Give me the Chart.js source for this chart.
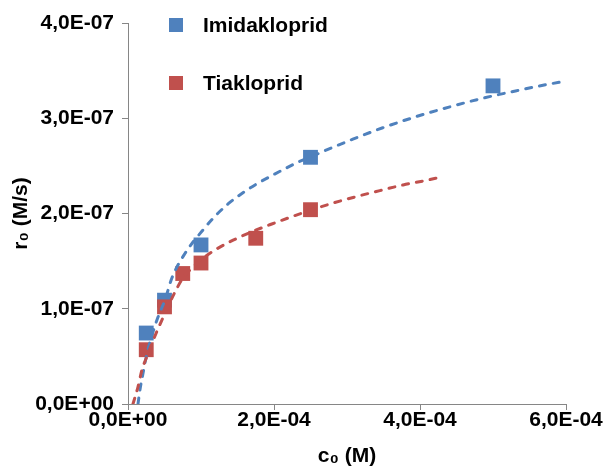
<!DOCTYPE html>
<html>
<head>
<meta charset="utf-8">
<script src="https://cdn.jsdelivr.net/npm/chart.js@4/dist/chart.umd.min.js"></script>
<style>
html,body{margin:0;padding:0;background:#ffffff;}
#wrap{width:603px;height:466px;position:relative;}
</style>
</head>
<body>
<div id="wrap"><canvas id="c" width="603" height="466"></canvas></div>
<script>
// ---- data ----
const seriesNames = ['Imidakloprid', 'Tiakloprid'];

const imiConc = [2.5e-5, 5e-5, 1e-4, 2.5e-4, 5e-4];
const imiRate = [0.745e-7, 1.09e-7, 1.67e-7, 2.59e-7, 3.34e-7];

const tiaConc = [2.5e-5, 5e-5, 7.5e-5, 1e-4, 1.75e-4, 2.5e-4];
const tiaRate = [0.57e-7, 1.02e-7, 1.37e-7, 1.48e-7, 1.74e-7, 2.04e-7];

// dashed trend curves, sampled along the drawn curves
const imiFitConc = [1.37e-5, 1.64e-5, 2.05e-5, 2.6e-5, 3.4e-5, 4.1e-5, 5.1e-5, 6.0e-5, 7.8e-5, 1.03e-4, 1.19e-4, 1.37e-4, 1.56e-4, 1.74e-4, 1.95e-4, 2.15e-4, 2.33e-4, 2.52e-4, 2.73e-4, 3.08e-4, 3.49e-4, 3.96e-4, 4.41e-4, 4.86e-4, 5.33e-4, 5.78e-4, 6.0e-4];
const imiFitRate = [0, 0.15e-7, 0.32e-7, 0.53e-7, 0.75e-7, 0.91e-7, 1.10e-7, 1.32e-7, 1.58e-7, 1.83e-7, 1.97e-7, 2.10e-7, 2.21e-7, 2.30e-7, 2.39e-7, 2.47e-7, 2.54e-7, 2.60e-7, 2.67e-7, 2.78e-7, 2.90e-7, 3.02e-7, 3.12e-7, 3.21e-7, 3.29e-7, 3.36e-7, 3.39e-7];

const tiaFitConc = [6.8e-6, 1.37e-5, 1.92e-5, 2.6e-5, 3.3e-5, 4.0e-5, 4.7e-5, 5.3e-5, 6.4e-5, 7.5e-5, 8.8e-5, 1.01e-4, 1.22e-4, 1.44e-4, 1.67e-4, 1.97e-4, 2.22e-4, 2.52e-4, 2.81e-4, 3.14e-4, 3.45e-4, 3.77e-4, 4.10e-4, 4.27e-4];
const tiaFitRate = [0, 0.18e-7, 0.36e-7, 0.50e-7, 0.64e-7, 0.77e-7, 0.89e-7, 0.99e-7, 1.17e-7, 1.32e-7, 1.43e-7, 1.52e-7, 1.63e-7, 1.72e-7, 1.80e-7, 1.89e-7, 1.96e-7, 2.04e-7, 2.11e-7, 2.18e-7, 2.24e-7, 2.30e-7, 2.35e-7, 2.38e-7];

const xTickLabels = ['0,0E+00', '2,0E-04', '4,0E-04', '6,0E-04'];
const yTickLabels = ['0,0E+00', '1,0E-07', '2,0E-07', '3,0E-07', '4,0E-07'];

const xTitle = 'c\u2080 (M)';
const yTitle = 'r\u2080 (M/s)';

// ---- styling ----
const BLUE = '#4F81BD';
const RED = '#C0504D';
const AXIS = '#868686';
const FONT = "'Liberation Sans', Arial, 'DejaVu Sans', sans-serif";

function pts(xs, ys) { return xs.map((x, i) => ({ x: x, y: ys[i] })); }

const legendPlugin = {
  id: 'insideLegend',
  afterDraw(chart) {
    const ctx = chart.ctx;
    const items = [
      { text: seriesNames[0], color: BLUE, y: 25 },
      { text: seriesNames[1], color: RED, y: 83 }
    ];
    ctx.save();
    items.forEach(it => {
      ctx.fillStyle = it.color;
      ctx.fillRect(169, it.y - 7, 14, 14);
      ctx.fillStyle = '#000000';
      ctx.font = 'bold 21px ' + FONT;
      ctx.textBaseline = 'middle';
      ctx.textAlign = 'left';
      ctx.fillText(it.text, 203, it.y + 1);
    });
    ctx.restore();
  }
};

new Chart(document.getElementById('c'), {
  type: 'scatter',
  data: {
    datasets: [
      {
        label: seriesNames[0],
        data: pts(imiConc, imiRate),
        pointStyle: 'rect',
        pointRadius: 10.5,
        pointHoverRadius: 10.5,
        backgroundColor: BLUE,
        borderColor: BLUE,
        borderWidth: 0,
        showLine: false,
        order: 4
      },
      {
        label: seriesNames[1],
        data: pts(tiaConc, tiaRate),
        pointStyle: 'rect',
        pointRadius: 10.5,
        pointHoverRadius: 10.5,
        backgroundColor: RED,
        borderColor: RED,
        borderWidth: 0,
        showLine: false,
        order: 3
      },
      {
        label: seriesNames[0] + ' fit',
        data: pts(imiFitConc, imiFitRate),
        showLine: true,
        pointRadius: 0,
        borderColor: BLUE,
        borderWidth: 3,
        borderDash: [6, 8],
        borderCapStyle: 'round',
        cubicInterpolationMode: 'monotone',
        fill: false,
        order: 2
      },
      {
        label: seriesNames[1] + ' fit',
        data: pts(tiaFitConc, tiaFitRate),
        showLine: true,
        pointRadius: 0,
        borderColor: RED,
        borderWidth: 3,
        borderDash: [6, 8],
        borderCapStyle: 'round',
        cubicInterpolationMode: 'monotone',
        fill: false,
        order: 1
      }
    ]
  },
  options: {
    responsive: false,
    animation: false,
    devicePixelRatio: 1,
    layout: { padding: { top: 23, right: 37, left: 0, bottom: 0 } },
    plugins: {
      legend: { display: false },
      tooltip: { enabled: false }
    },
    scales: {
      x: {
        type: 'linear',
        min: 0,
        max: 6e-4,
        afterFit(scale) { scale.height = 62; },
        border: { display: true, color: AXIS, width: 1 },
        grid: { display: true, drawOnChartArea: false, drawTicks: true, tickLength: 6, color: AXIS },
        ticks: {
          stepSize: 2e-4,
          autoSkip: false,
          maxRotation: 0,
          padding: 0,
          color: '#000000',
          font: { family: FONT, size: 21, weight: 'bold', lineHeight: 1.0 },
          callback: (v, i) => xTickLabels[i]
        },
        title: {
          display: true,
          text: xTitle,
          color: '#000000',
          padding: { top: 0, bottom: 0 },
          font: { family: FONT, size: 21, weight: 'bold', lineHeight: 0.95 }
        }
      },
      y: {
        type: 'linear',
        min: 0,
        max: 4e-7,
        afterFit(scale) { scale.width = 128; },
        border: { display: true, color: AXIS, width: 1 },
        grid: { display: true, drawOnChartArea: false, drawTicks: true, tickLength: 6, color: AXIS },
        ticks: {
          stepSize: 1e-7,
          autoSkip: false,
          padding: 8,
          color: '#000000',
          font: { family: FONT, size: 21, weight: 'bold' },
          callback: (v, i) => yTickLabels[i]
        },
        title: {
          display: true,
          text: yTitle,
          color: '#000000',
          padding: { top: 9, bottom: 0 },
          font: { family: FONT, size: 21, weight: 'bold', lineHeight: 1.2 }
        }
      }
    }
  },
  plugins: [legendPlugin]
});
</script>
</body>
</html>
